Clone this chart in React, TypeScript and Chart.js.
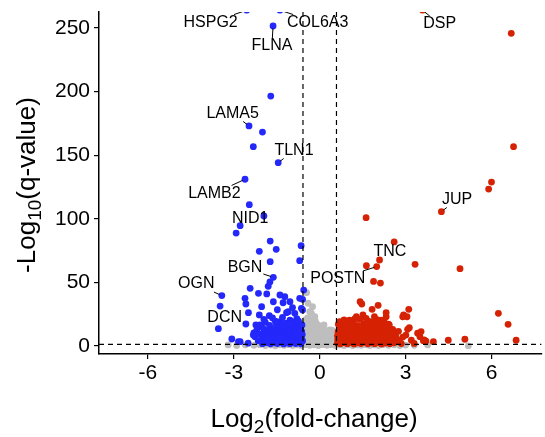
import React, { useEffect, useRef } from 'react';
import { Chart, registerables } from 'chart.js';

Chart.register(...registerables);

// ---- axes ----
const X_TICKS = [-6, -3, 0, 3, 6];
const Y_TICKS = [0, 50, 100, 150, 200, 250];
const X_MIN = -7.71;
const X_MAX = 7.75;
const Y_MIN = -6.3;
const Y_MAX = 262.6;
const FC_CUT = 0.585;
const Q_CUT = 1.3;

// ---- significantly down-regulated (log2FC, -log10 q) ----
const DOWN: number[][] = [
  [-2.55, 264], [-1.39, 264], [-1.63, 251.6], [-1.71, 196.5], [-2.47, 173], [-2.0, 168.2],
  [-2.32, 156.7], [-1.45, 144.1], [-2.61, 131.1], [-2.46, 111.1], [-1.95, 102.2], [-2.78, 94.6],
  [-2.92, 88.8], [-1.73, 82.5], [-1.52, 76.0], [-2.11, 74.4], [-0.65, 78.9], [-0.7, 67.1],
  [-1.73, 66.3], [-1.62, 54.0], [-1.74, 50.3], [-1.8, 46.9], [-3.42, 39.6], [-2.43, 45.3],
  [-2.14, 41.4], [-2.61, 37.5], [-3.48, 31.4], [-2.58, 33], [-2.49, 26.2], [-2.58, 17.3],
  [-3.54, 13.6], [-3.07, 5.5], [-2.84, 3.4], [-2.26, 7.3], [-2.11, 24.4], [-2.03, 30.9],
  [-1.76, 23.8], [-2.23, 16.5], [-1.39, 40.1], [-1.22, 38.8], [-1.62, 34.8], [-1.04, 34.8],
  [-1.28, 34.0], [-0.56, 44], [-1.1, 27], [-0.87, 25.7], [-1.39, 19.1], [-1.85, 40.9],
  [-0.64, 29.6], [-0.7, 37.5], [-1.16, 26.2], [-1.04, 20.4], [-2.09, 16.5], [-2.32, 8.6],
  [-2.78, 3.4], [-0.6, 36.7], [-0.6, 28.3], [-0.62, 16.5], [-0.61, 9], [-0.6, 4],
  [-1.65, 22.0], [-1.3, 22.5], [-0.8, 21.5], [-1.95, 21.0], [-1.48, 28.5], [-0.95, 30.2],
  [-1.9, 18.5], [-1.55, 19.5], [-1.2, 18.0], [-0.95, 19.0], [-0.75, 17.5],
  [-2.05, 15.2], [-1.75, 16.2], [-1.45, 15.5], [-1.3, 16.8], [-1.1, 15.0], [-0.85, 16.0], [-0.68, 14.8],
  [-2.2, 12.5], [-1.95, 13.2], [-1.8, 12.0], [-1.6, 13.5], [-1.5, 12.2], [-1.35, 13.0], [-1.2, 12.4],
  [-1.05, 13.6], [-0.92, 12.1], [-0.8, 13.2], [-0.66, 12.4],
  [-2.3, 10.3], [-2.1, 9.6], [-1.9, 10.4], [-1.75, 9.2], [-1.65, 10.8], [-1.5, 9.5], [-1.4, 10.6],
  [-1.28, 9.1], [-1.15, 10.3], [-1.02, 9.4], [-0.9, 10.7], [-0.78, 9.3], [-0.7, 10.5], [-0.63, 11.2],
  [-2.0, 7.0], [-1.85, 6.4], [-1.7, 7.6], [-1.58, 6.6], [-1.46, 7.8], [-1.36, 6.2], [-1.24, 7.3],
  [-1.12, 6.5], [-1.0, 7.7], [-0.9, 6.3], [-0.8, 7.4], [-0.72, 6.6], [-0.64, 7.8],
  [-2.15, 4.2], [-1.95, 4.8], [-1.8, 3.8], [-1.68, 5.2], [-1.55, 4.1], [-1.44, 5.4], [-1.34, 3.9],
  [-1.22, 4.9], [-1.1, 4.0], [-0.98, 5.3], [-0.88, 3.7], [-0.78, 4.8], [-0.7, 3.9], [-0.63, 5.0],
  [-2.5, 2.2], [-2.0, 1.8], [-1.86, 2.6], [-1.72, 1.7], [-1.6, 2.5], [-1.48, 1.9], [-1.36, 2.8],
  [-1.26, 1.6], [-1.14, 2.4], [-1.04, 1.8], [-0.94, 2.6], [-0.84, 1.9], [-0.75, 2.7], [-0.66, 1.7],
  [-1.52, 17.5], [-1.18, 14.2], [-0.98, 17.2], [-0.74, 19.6], [-1.62, 11.4], [-1.08, 11.6],
  [-0.85, 8.5], [-1.3, 8.2], [-1.78, 5.6], [-0.7, 13.6], [-1.42, 6.9], [-0.96, 3.2],
];

// ---- significantly up-regulated ----
const UP: number[][] = [
  [3.59, 264], [6.69, 245.8], [6.77, 156.7], [6.0, 128.9], [5.9, 123.4], [4.25, 105.6],
  [1.62, 100.9], [2.6, 81.8], [2.09, 67.6], [3.33, 64.2], [4.9, 60.8], [1.63, 63.1],
  [1.99, 62.4], [1.88, 50.8], [2.12, 49.5], [1.41, 34.8], [1.47, 33], [2.04, 32],
  [1.83, 28.8], [3.11, 28.8], [2.93, 24.4], [3.05, 23], [2.32, 26.2], [2.32, 23],
  [6.24, 25.7], [6.58, 17], [6.86, 4.5], [5.07, 5.3], [4.49, 4.5], [3.97, 3.4],
  [3.71, 3.9], [3.5, 7.3], [3.42, 10], [3.13, 14.4], [3.01, 8.6], [2.78, 3.4],
  [3.07, 13.1], [3.65, 4.7], [2.49, 11.3], [2.43, 16.5], [2.14, 20.4], [1.04, 20.4],
  [0.7, 19.1], [1.51, 24.4], [1.28, 23], [1.91, 23], [2.9, 23], [3.54, 11.3], [3.62, 4.2],
  [0.85, 20.5], [1.15, 19.8], [1.4, 21.0], [1.7, 19.5], [2.0, 20.8], [2.25, 19.2],
  [0.65, 17.0], [0.9, 16.5], [1.1, 17.6], [1.3, 16.2], [1.55, 17.4], [1.8, 16.0], [1.95, 17.8],
  [2.2, 16.6], [2.4, 17.2],
  [0.7, 14.0], [0.82, 13.2], [0.98, 14.6], [1.12, 13.4], [1.25, 14.8], [1.38, 13.1], [1.52, 14.3],
  [1.66, 13.5], [1.8, 14.9], [1.92, 13.2], [2.05, 14.2], [2.2, 13.4], [2.35, 14.5], [2.55, 13.0],
  [0.64, 11.0], [0.76, 10.2], [0.88, 11.6], [1.0, 10.4], [1.12, 11.8], [1.24, 10.1], [1.36, 11.4],
  [1.48, 10.3], [1.6, 11.7], [1.72, 10.5], [1.84, 11.2], [1.96, 10.0], [2.08, 11.5], [2.22, 10.4],
  [2.36, 11.0], [2.6, 10.2], [2.75, 11.5],
  [0.62, 8.0], [0.74, 7.2], [0.86, 8.6], [0.98, 7.4], [1.1, 8.8], [1.22, 7.1], [1.34, 8.4],
  [1.46, 7.3], [1.58, 8.7], [1.7, 7.5], [1.82, 8.3], [1.94, 7.0], [2.06, 8.5], [2.18, 7.4],
  [2.32, 8.2], [2.45, 7.1], [2.65, 8.0], [2.9, 7.0],
  [0.63, 5.0], [0.75, 4.3], [0.87, 5.6], [0.99, 4.4], [1.11, 5.5], [1.23, 4.1], [1.35, 5.2],
  [1.47, 4.5], [1.59, 5.7], [1.71, 4.2], [1.83, 5.3], [1.95, 4.6], [2.07, 5.6], [2.19, 4.2],
  [2.31, 5.1], [2.5, 4.4], [2.7, 5.2], [3.2, 4.5],
  [0.62, 2.2], [0.72, 1.7], [0.84, 2.7], [0.96, 1.8], [1.08, 2.6], [1.2, 1.6], [1.32, 2.5],
  [1.44, 1.9], [1.56, 2.8], [1.68, 1.7], [1.8, 2.4], [1.92, 1.8], [2.04, 2.7], [2.16, 1.6],
  [2.3, 2.3], [2.45, 1.8], [2.6, 2.5], [2.85, 1.9], [3.3, 2.0],
  [0.78, 18.2], [1.0, 18.9], [1.22, 21.2], [1.62, 21.6], [1.88, 19.4], [2.12, 18.0],
  [0.92, 15.2], [1.42, 15.8], [1.68, 15.6], [2.0, 15.9], [0.72, 12.4], [1.18, 12.6],
  [1.58, 12.2], [2.12, 12.4], [1.05, 9.2], [1.52, 9.4], [1.88, 9.6], [2.42, 9.2],
];

// ---- not significant ----
const NS: number[][] = [
  [-0.46, 41.9], [-0.41, 33.6], [-0.25, 30.9], [-0.35, 27], [-0.17, 23], [-0.29, 25.7],
  [-0.23, 17.8], [-0.06, 16.5], [0.11, 13.9], [0.35, 12.6], [0.46, 10], [0.23, 8.6],
  [-0.5, 20.5], [-0.42, 22.0], [-0.52, 18.0], [-0.4, 19.0], [-0.3, 20.2], [-0.48, 15.5],
  [-0.38, 14.5], [-0.28, 16.0], [-0.15, 19.5], [-0.1, 14.0], [0.02, 15.0], [0.15, 16.5],
  [-0.55, 12.0], [-0.45, 11.0], [-0.33, 12.5], [-0.2, 11.5], [-0.08, 12.0], [0.05, 11.0],
  [0.2, 12.0], [0.3, 10.5], [0.42, 12.5], [0.52, 11.0], [-0.52, 8.5], [-0.4, 9.0],
  [-0.28, 8.0], [-0.16, 9.5], [-0.04, 8.2], [0.08, 9.0], [0.18, 7.5], [0.32, 8.0],
  [0.44, 7.2], [0.54, 8.4], [-0.55, 5.5], [-0.44, 6.0], [-0.32, 5.2], [-0.2, 6.4],
  [-0.08, 5.0], [0.04, 6.2], [0.16, 4.8], [0.28, 5.8], [0.4, 4.6], [0.5, 5.6],
  [-0.5, 3.2], [-0.38, 2.6], [-0.26, 3.5], [-0.14, 2.4], [-0.02, 3.3], [0.1, 2.5],
  [0.22, 3.4], [0.34, 2.2], [0.46, 3.1], [0.56, 2.4],
  [-3.2, 0.8], [-2.9, 0.4], [-2.6, 0.9], [-2.3, 0.5], [-2.1, 1.0], [-1.9, 0.3], [-1.7, 0.8],
  [-1.55, 0.2], [-1.4, 0.9], [-1.25, 0.5], [-1.1, 1.0], [-0.95, 0.3], [-0.8, 0.8], [-0.65, 0.4],
  [-0.5, 1.0], [-0.35, 0.5], [-0.2, 0.9], [-0.05, 0.3], [0.1, 1.0], [0.25, 0.5], [0.4, 0.9],
  [0.55, 0.3], [0.7, 0.8], [0.85, 0.4], [1.0, 1.0], [1.15, 0.3], [1.3, 0.8], [1.45, 0.5],
  [1.6, 1.0], [1.75, 0.3], [1.9, 0.8], [2.05, 0.4], [2.2, 1.0], [2.4, 0.5], [2.6, 0.9],
  [2.8, 0.3], [3.0, 0.7], [3.3, 0.5], [3.77, 0.8], [5.19, 0.1],
];

// ---- gene labels: point (x, y) and label centre (tx, ty), data units ----
const GENE_NAMES = ['HSPG2', 'COL6A3', 'FLNA', 'DSP', 'LAMA5', 'TLN1', 'LAMB2', 'NID1', 'BGN', 'OGN', 'DCN', 'TNC', 'POSTN', 'JUP'];
const GENE_X = [-2.55, -1.39, -1.63, 3.59, -2.47, -1.45, -2.61, -1.95, -1.62, -3.42, -2.58, 2.09, 1.99, 4.25];
const GENE_Y = [264, 264, 251.6, 264, 173, 144.1, 131.1, 102.2, 54, 39.6, 17.3, 67.6, 62.4, 105.6];
const LABEL_X = [-3.81, -0.07, -1.67, 4.19, -3.04, -0.9, -3.68, -2.43, -2.61, -4.31, -3.32, 2.45, 0.63, 4.8];
const LABEL_Y = [254.3, 254.3, 235.8, 253.1, 182.8, 153.7, 119.9, 100.2, 61.3, 48.7, 22.0, 73.9, 52.7, 115.2];

const FONT = '"Liberation Sans", Arial, Helvetica, sans-serif';
const BLUE = 'rgb(36,40,250)';
const RED = 'rgb(214,34,4)';
const GREY = 'rgb(190,190,190)';

function drawSubTitle(ctx: CanvasRenderingContext2D, parts: [string, boolean][], size: number) {
  const widths = parts.map(([t, sub]) => {
    ctx.font = `${sub ? Math.round(size * 0.72) : size}px ${FONT}`;
    return ctx.measureText(t).width;
  });
  const total = widths.reduce((a, b) => a + b, 0);
  let cur = -total / 2;
  parts.forEach(([t, sub], i) => {
    ctx.font = `${sub ? Math.round(size * 0.72) : size}px ${FONT}`;
    ctx.fillText(t, cur, sub ? size * 0.22 : 0);
    cur += widths[i];
  });
}

const overlay = {
  id: 'overlay',
  afterDatasetsDraw(chart: any) {
    const { ctx, chartArea: a, scales } = chart;
    const xs = scales.x;
    const ys = scales.y;
    ctx.save();
    ctx.beginPath();
    ctx.rect(a.left, a.top, a.right - a.left, a.bottom - a.top);
    ctx.clip();
    ctx.setLineDash([5, 4]);
    ctx.strokeStyle = '#000';
    ctx.lineWidth = 1.2;
    [-FC_CUT, FC_CUT].forEach((v) => {
      const px = xs.getPixelForValue(v);
      ctx.beginPath();
      ctx.moveTo(px, a.top);
      ctx.lineTo(px, a.bottom);
      ctx.stroke();
    });
    const hy = ys.getPixelForValue(Q_CUT);
    ctx.beginPath();
    ctx.moveTo(a.left, hy);
    ctx.lineTo(a.right, hy);
    ctx.stroke();
    ctx.setLineDash([]);

    // labels with leader segments
    ctx.font = `16px ${FONT}`;
    ctx.textAlign = 'center';
    ctx.textBaseline = 'middle';
    GENE_NAMES.forEach((name, i) => {
      const px = xs.getPixelForValue(GENE_X[i]);
      const py = ys.getPixelForValue(GENE_Y[i]);
      const tx = xs.getPixelForValue(LABEL_X[i]);
      const ty = ys.getPixelForValue(LABEL_Y[i]);
      const w = ctx.measureText(name).width;
      const hw = w / 2 + 1;
      const hh = 8;
      const dx = px - tx;
      const dy = py - ty;
      const tX = Math.abs(dx) > 0 ? hw / Math.abs(dx) : Infinity;
      const tY = Math.abs(dy) > 0 ? hh / Math.abs(dy) : Infinity;
      const t0 = Math.min(tX, tY);
      const len = Math.hypot(dx, dy);
      if (t0 < 1) {
        const sx = tx + dx * t0;
        const sy = ty + dy * t0;
        const t1 = 1 - 2.5 / len;
        if (t1 > t0) {
          ctx.strokeStyle = '#000';
          ctx.lineWidth = 1;
          ctx.beginPath();
          ctx.moveTo(sx, sy);
          ctx.lineTo(tx + dx * t1, ty + dy * t1);
          ctx.stroke();
        }
      }
      ctx.fillStyle = '#000';
      ctx.fillText(name, tx, ty);
    });
    ctx.restore();
  },
  afterDraw(chart: any) {
    const { ctx, chartArea: a } = chart;
    ctx.save();
    ctx.fillStyle = '#000';
    ctx.textAlign = 'left';
    ctx.textBaseline = 'alphabetic';
    // x title
    ctx.save();
    ctx.translate(314, 427);
    drawSubTitle(ctx, [['Log', false], ['2', true], ['(fold-change)', false]], 26);
    ctx.restore();
    // y title
    ctx.save();
    ctx.translate(35, (a.top + a.bottom) / 2 + 2);
    ctx.rotate(-Math.PI / 2);
    drawSubTitle(ctx, [['-Log', false], ['10', true], ['(q-value)', false]], 26);
    ctx.restore();
    ctx.restore();
  },
};

const toPts = (arr: number[][]) => arr.map(([x, y]) => ({ x, y }));

export default function App() {
  const ref = useRef<HTMLCanvasElement>(null);
  useEffect(() => {
    document.body.style.margin = '0';
    const tickFont = { family: FONT, size: 21 };
    const chart = new Chart(ref.current as HTMLCanvasElement, {
      type: 'scatter',
      data: {
        datasets: [
          { label: 'NS', data: toPts(NS), backgroundColor: GREY, order: 3, clip: 0 } as any,
          { label: 'Down', data: toPts(DOWN), backgroundColor: BLUE, order: 2, clip: 0 } as any,
          { label: 'Up', data: toPts(UP), backgroundColor: RED, order: 1, clip: 0 } as any,
        ],
      },
      options: {
        responsive: false,
        animation: false,
        devicePixelRatio: 1,
        layout: { padding: { top: 12, right: 2, left: 0, bottom: 0 } },
        elements: { point: { radius: 3.4, borderWidth: 0, hoverRadius: 3.4 } },
        plugins: { legend: { display: false }, tooltip: { enabled: false } },
        scales: {
          x: {
            type: 'linear',
            min: X_MIN,
            max: X_MAX,
            afterBuildTicks: (s: any) => { s.ticks = X_TICKS.map((v) => ({ value: v })); },
            afterFit: (s: any) => { s.height = 83; s.paddingLeft = 0; s.paddingRight = 0; },
            grid: { display: true, drawOnChartArea: false, drawTicks: true, tickLength: 5, color: '#000', lineWidth: 1.2 },
            border: { display: true, color: '#000', width: 1.5 },
            ticks: { font: tickFont, color: '#000', padding: 2, maxRotation: 0, autoSkip: false },
          },
          y: {
            type: 'linear',
            min: Y_MIN,
            max: Y_MAX,
            afterBuildTicks: (s: any) => { s.ticks = Y_TICKS.map((v) => ({ value: v })); },
            afterFit: (s: any) => { s.width = 99; s.paddingTop = 0; s.paddingBottom = 0; },
            grid: { display: true, drawOnChartArea: false, drawTicks: true, tickLength: 5, color: '#000', lineWidth: 1.2 },
            border: { display: true, color: '#000', width: 1.5 },
            ticks: { font: tickFont, color: '#000', padding: 4, autoSkip: false },
          },
        },
      } as any,
      plugins: [overlay],
    });
    return () => chart.destroy();
  }, []);
  return (
    <div style={{ width: 545, height: 437 }}>
      <canvas ref={ref} width={545} height={437} style={{ display: 'block' }} />
    </div>
  );
}
